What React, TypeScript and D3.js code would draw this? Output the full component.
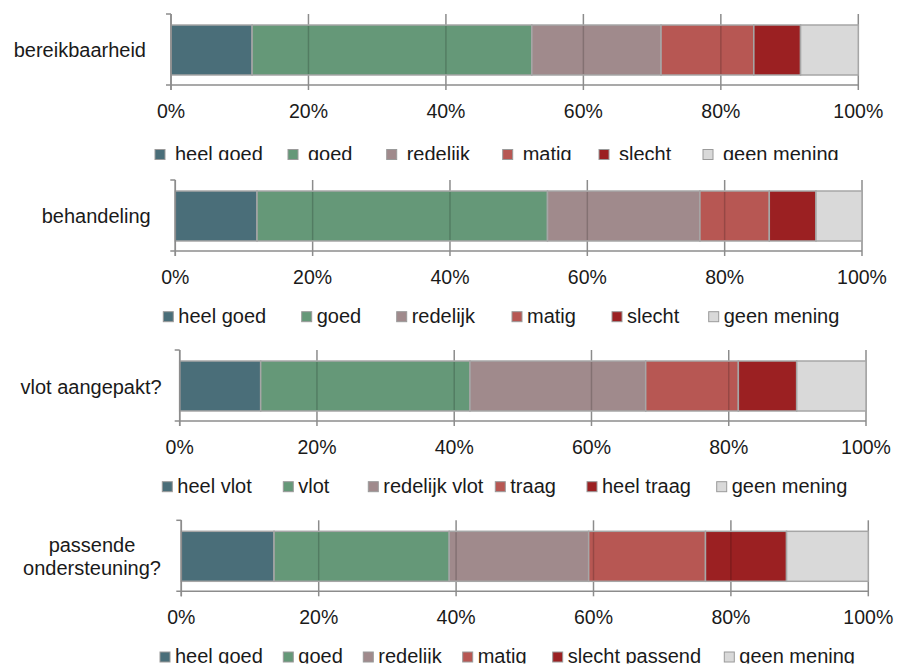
import React from 'react';
import * as d3 from 'd3';

const categories = ['bereikbaarheid', 'behandeling', 'vlot aangepakt?', 'passende ondersteuning?'];

const seriesLabels = [
  ['heel goed', 'goed', 'redelijk', 'matig', 'slecht', 'geen mening'],
  ['heel goed', 'goed', 'redelijk', 'matig', 'slecht', 'geen mening'],
  ['heel vlot', 'vlot', 'redelijk vlot', 'traag', 'heel traag', 'geen mening'],
  ['heel goed', 'goed', 'redelijk', 'matig', 'slecht passend', 'geen mening'],
];

// percentages per answer, left to right
const bereikbaarheid = [11.8, 40.7, 18.8, 13.5, 6.8, 8.4];
const behandeling = [11.9, 42.3, 22.2, 10.1, 6.8, 6.7];
const vlotAangepakt = [11.8, 30.5, 25.6, 13.5, 8.5, 10.1];
const passendeOndersteuning = [13.5, 25.5, 20.3, 17.0, 11.8, 11.9];
const values = [bereikbaarheid, behandeling, vlotAangepakt, passendeOndersteuning];

const tickValues = [0, 20, 40, 60, 80, 100];

const colors = ['#4a6e79', '#659878', '#a08a8c', '#b75753', '#9b2022', '#d9d9d9'];

// layout per panel (each panel is a separate little chart)
const layout = [
  { x0: 171, x1: 858.3, axisY: 85, labelX: 146, labelY: [57.3], anchor: 'end', legendY: 160.5, clipY: 160, swatchX: [155, 288, 386.7, 502.7, 599, 703], textGap: 20 },
  { x0: 175.3, x1: 862, axisY: 251, labelX: 150.7, labelY: [223.3], anchor: 'end', legendY: 322.7, clipY: 340, swatchX: [163.3, 301.7, 396.7, 512, 612, 708.7], textGap: 15 },
  { x0: 179.7, x1: 866, axisY: 421, labelX: 161.7, labelY: [393.5], anchor: 'end', legendY: 492.7, clipY: 510, swatchX: [162.3, 283.3, 368.3, 495.3, 587, 716.7], textGap: 15 },
  { x0: 181.3, x1: 868.3, axisY: 591.3, labelX: 92, labelY: [551.5, 575], anchor: 'middle', legendY: 663, clipY: 663.5, swatchX: [160, 283.3, 363.3, 462.7, 552.7, 724.3], textGap: 15 },
];

const FONT = "'Liberation Sans', Arial, sans-serif";
const AXIS = '#8c8c8c';

const Panel: React.FC<{ i: number }> = ({ i }) => {
  const L = layout[i];
  const x = d3.scaleLinear().domain([0, 100]).range([L.x0, L.x1]);
  const keys = d3.range(values[i].length);
  const row: Record<number, number> = {};
  keys.forEach(k => (row[k] = values[i][k]));
  const stacked = d3.stack<Record<number, number>, number>().keys(keys)([row]);
  const top = L.axisY - 71;
  const barTop = L.axisY - 60;
  const barH = 50;
  const words = i === 3 ? ['passende', 'ondersteuning?'] : [categories[i]];
  const clipId = `clip-${i}`;

  return (
    <g>
      <defs>
        <clipPath id={clipId}>
          <rect x={0} y={top - 20} width={902} height={L.clipY - top + 20} />
        </clipPath>
      </defs>
      {/* gridlines behind bars */}
      {tickValues.map(t => (
        <line key={'g' + t} x1={x(t)} x2={x(t)} y1={top} y2={L.axisY + 5} stroke={AXIS} strokeWidth={1.5} />
      ))}
      {stacked.map((s, k) => (
        <rect key={k} x={x(s[0][0])} y={barTop} width={x(s[0][1]) - x(s[0][0])} height={barH}
          fill={colors[k]} stroke="#a6a6a6" strokeWidth={1.5} />
      ))}
      {/* gridlines seen through the bars */}
      {tickValues.slice(1, -1).map(t => (
        <line key={'o' + t} x1={x(t)} x2={x(t)} y1={barTop + 1} y2={barTop + barH - 1} stroke="#000" strokeOpacity={0.18} strokeWidth={1.5} />
      ))}
      {/* axes */}
      <line x1={x(0)} x2={x(0)} y1={top} y2={L.axisY + 5} stroke={AXIS} strokeWidth={1.5} />
      <line x1={x(0) - 5} x2={x(0)} y1={top} y2={top} stroke={AXIS} strokeWidth={1.5} />
      <line x1={x(0) - 5} x2={x(100)} y1={L.axisY} y2={L.axisY} stroke={AXIS} strokeWidth={1.5} />
      {tickValues.map(t => (
        <text key={'t' + t} x={x(t)} y={L.axisY + 32.5} textAnchor="middle" fontFamily={FONT} fontSize={19.5} fill="#1a1a1a">
          {t}%
        </text>
      ))}
      {words.map((w, j) => (
        <text key={'c' + j} x={L.labelX} y={L.labelY[j]} textAnchor={L.anchor as any} fontFamily={FONT} fontSize={20} fill="#1a1a1a">
          {w}
        </text>
      ))}
      <g clipPath={`url(#${clipId})`}>
        {seriesLabels[i].map((lab, k) => (
          <g key={'l' + k}>
            <rect x={L.swatchX[k]} y={L.legendY - 11} width={10} height={10} fill={colors[k]} stroke="#9a9a9a" strokeWidth={1} />
            <text x={L.swatchX[k] + L.textGap} y={L.legendY} fontFamily={FONT} fontSize={20} fill="#1a1a1a">
              {lab}
            </text>
          </g>
        ))}
      </g>
    </g>
  );
};

export default function App() {
  return (
    <svg width={902} height={666} style={{ position: 'absolute', left: 0, top: 0, background: '#fff' }}>
      <rect width={902} height={666} fill="#fff" />
      {categories.map((_, i) => (
        <Panel key={i} i={i} />
      ))}
    </svg>
  );
}
